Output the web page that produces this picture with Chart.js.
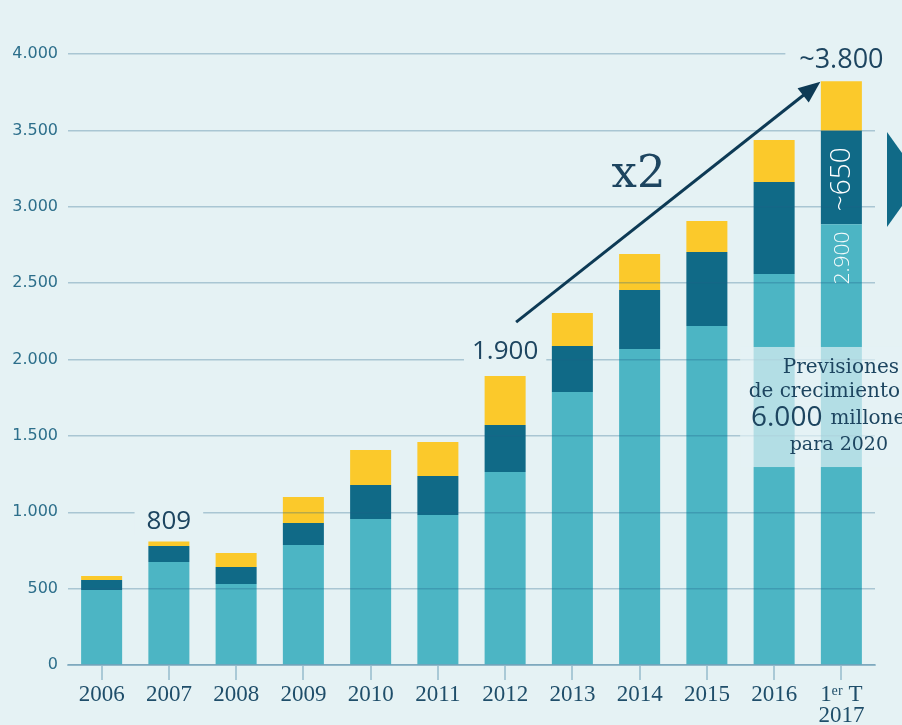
<!DOCTYPE html>
<html>
<head>
<meta charset="utf-8">
<script src="https://cdn.jsdelivr.net/npm/chart.js@4"></script>
<style>
  html, body { margin: 0; padding: 0; background: #e5f2f4; }
  #wrap { width: 902px; height: 725px; }
</style>
</head>
<body>
<div id="wrap"><canvas id="c" width="902" height="725"></canvas></div>
<script>
const categories = ['2006','2007','2008','2009','2010','2011','2012','2013','2014','2015','2016',['1ᵉʳ T','2017']];
const baseValues   = [491, 674, 530, 786, 956, 982, 1264, 1787, 2069, 2219, 2560, 2885];
const middleValues = [65, 105, 112, 144, 222, 255, 307, 301, 386, 485, 602, 612];
const topValues    = [27, 30, 91, 170, 230, 223, 321, 216, 236, 203, 275, 325];
const yTicks = [0, 500, 1000, 1500, 2000, 2500, 3000, 3500, 4000];

const BG = '#e5f2f4';
const TXT = '#1d4560';

function fmt(v) {
  return String(v).replace(/\B(?=(\d{3})+(?!\d))/g, '.');
}

const annot = {
  id: 'annot',
  afterDraw(chart) {
    const { ctx } = chart;
    const x = chart.scales.x, y = chart.scales.y;
    ctx.save();

    // translucent band behind forecast text
    const bTop = y.getPixelForValue(2082), bBot = y.getPixelForValue(1296);
    ctx.fillStyle = 'rgba(229,242,244,0.68)';
    ctx.fillRect(x.getPixelForValue(10) - 34, bTop, chart.width, bBot - bTop);

    function bgText(txt, cx, cy, font, pad) {
      ctx.font = font;
      const w = ctx.measureText(txt).width;
      ctx.fillStyle = BG;
      ctx.fillRect(cx - w / 2 - pad, cy - 13, w + pad * 2, 26);
      ctx.fillStyle = TXT;
      ctx.textAlign = 'center';
      ctx.textBaseline = 'middle';
      ctx.fillText(txt, cx, cy);
    }

    // 809
    bgText('809', x.getPixelForValue(1), y.getPixelForValue(936), '26px "Open Sans"', 12);
    // 1.900
    bgText('1.900', x.getPixelForValue(6), y.getPixelForValue(2050), '26px "Open Sans"', 8);
    // ~3.800
    ctx.fillStyle = BG;
    ctx.fillRect(x.getPixelForValue(11) - 56, y.getPixelForValue(4090), 200, 26);
    ctx.fillStyle = TXT;
    ctx.font = '27px "Open Sans"';
    ctx.textAlign = 'center';
    ctx.textBaseline = 'middle';
    ctx.fillText('~3.800', x.getPixelForValue(11), y.getPixelForValue(3961));

    // x2
    ctx.font = '45px "DejaVu Serif"';
    ctx.fillText('x2', x.getPixelForValue(8) - 1, y.getPixelForValue(3208));

    // arrow
    const x0 = x.getPixelForValue(6) + 11, y0 = y.getPixelForValue(2245);
    const x1 = x.getPixelForValue(11) - 21, y1 = y.getPixelForValue(3818);
    const ang = Math.atan2(y1 - y0, x1 - x0);
    ctx.strokeStyle = '#0d3a55';
    ctx.lineWidth = 3;
    ctx.beginPath();
    ctx.moveTo(x0, y0);
    ctx.lineTo(x1 - 14 * Math.cos(ang), y1 - 14 * Math.sin(ang));
    ctx.stroke();
    ctx.fillStyle = '#0d3a55';
    ctx.beginPath();
    ctx.moveTo(x1, y1);
    ctx.lineTo(x1 - 22 * Math.cos(ang) + 9 * Math.sin(ang), y1 - 22 * Math.sin(ang) - 9 * Math.cos(ang));
    ctx.lineTo(x1 - 22 * Math.cos(ang) - 9 * Math.sin(ang), y1 - 22 * Math.sin(ang) + 9 * Math.cos(ang));
    ctx.closePath();
    ctx.fill();

    // rotated labels in last bar
    const lx = x.getPixelForValue(11) + 1;
    ctx.fillStyle = '#ffffff';
    ctx.save();
    ctx.translate(lx, y.getPixelForValue(3180));
    ctx.rotate(-Math.PI / 2);
    ctx.font = '300 28px "Open Sans"';
    ctx.fillText('~650', 0, 0);
    ctx.restore();
    ctx.save();
    ctx.translate(lx + 1, y.getPixelForValue(2664));
    ctx.rotate(-Math.PI / 2);
    ctx.font = '300 21px "Open Sans"';
    ctx.fillStyle = 'rgba(255,255,255,0.95)';
    ctx.fillText('2.900', 0, 0);
    ctx.restore();

    // right triangle
    const ty0 = y.getPixelForValue(3489), ty1 = y.getPixelForValue(2867);
    ctx.fillStyle = '#106a87';
    ctx.beginPath();
    ctx.moveTo(887, ty0);
    ctx.lineTo(887, ty1);
    ctx.lineTo(921, (ty0 + ty1) / 2);
    ctx.closePath();
    ctx.fill();

    // forecast text
    ctx.fillStyle = TXT;
    ctx.textBaseline = 'middle';
    ctx.textAlign = 'right';
    ctx.font = '20px "DejaVu Serif"';
    ctx.fillText('Previsiones', 899, y.getPixelForValue(1948));
    ctx.fillText('de crecimiento', 900, y.getPixelForValue(1791));
    ctx.font = '19px "DejaVu Serif"';
    ctx.fillText('para 2020', 888, y.getPixelForValue(1440));
    ctx.textAlign = 'left';
    ctx.font = '28px "Open Sans"';
    ctx.fillText('6.000', 751, y.getPixelForValue(1614));
    const w6 = ctx.measureText('6.000').width;
    ctx.font = '20px "DejaVu Serif"';
    ctx.fillText('millones', 751 + w6 + 8, y.getPixelForValue(1610));
    ctx.restore();
  }
};

new Chart(document.getElementById('c'), {
  type: 'bar',
  data: {
    labels: categories,
    datasets: [
      { label: 'base', data: baseValues, backgroundColor: '#4cb5c4' },
      { label: 'middle', data: middleValues, backgroundColor: '#106a87' },
      { label: 'top', data: topValues, backgroundColor: '#fbc92b' }
    ]
  },
  options: {
    responsive: false,
    devicePixelRatio: 1,
    animation: false,
    layout: { padding: { top: 54, right: 27, left: 0, bottom: 0 } },
    plugins: { legend: { display: false }, tooltip: { enabled: false } },
    datasets: { bar: { categoryPercentage: 1, barPercentage: 0.61, borderWidth: 0 } },
    scales: {
      x: {
        stacked: true,
        afterFit(s) { s.height = 60; },
        grid: { drawOnChartArea: false, drawTicks: true, tickLength: 15, color: '#a9c9d6', lineWidth: 2, offset: false },
        border: { display: true, color: '#a9c9d6', width: 2 },
        ticks: { color: '#1f4e6a', padding: 4, font: { family: "'Liberation Serif'", size: 23, lineHeight: 0.92 }, maxRotation: 0, autoSkip: false }
      },
      y: {
        stacked: true,
        min: 0, max: 4000,
        afterFit(s) { s.width = 68; },
        afterBuildTicks(s) { s.ticks = yTicks.map(v => ({ value: v })); },
        grid: { drawTicks: false, color: 'rgba(30,95,135,0.3)', lineWidth: 1.5, z: 1 },
        border: { display: false },
        ticks: { color: '#2d6f8b', padding: 10, font: { family: '"DejaVu Sans"', size: 16 }, callback: v => fmt(v) }
      }
    }
  },
  plugins: [annot]
});
</script>
</body>
</html>
